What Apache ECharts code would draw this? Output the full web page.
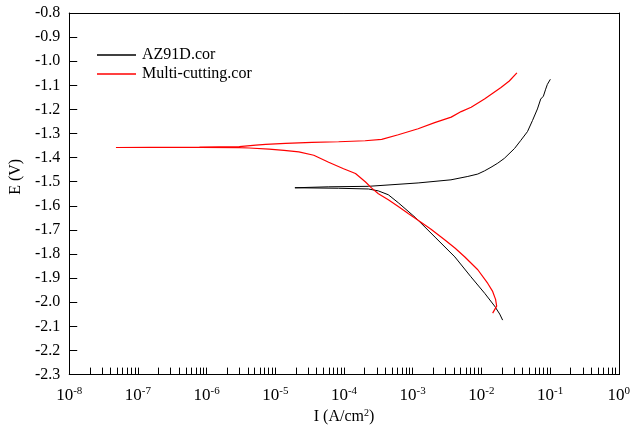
<!DOCTYPE html>
<html>
<head>
<meta charset="utf-8">
<script src="https://cdn.jsdelivr.net/npm/echarts@6/dist/echarts.min.js"></script>
<style>html,body{margin:0;padding:0;background:#fff;}#c{width:633px;height:430px;}</style>
</head>
<body>
<div id="c"></div>
<script>
// ---- data (current density in A/cm^2, potential in V) ----
const seriesNames = ['AZ91D.cor', 'Multi-cutting.cor'];

const az91dI = [2.04e-2, 1.85e-2, 1.56e-2, 1.12e-2, 7.03e-3, 4.12e-3, 2.12e-3, 1.09e-3, 6.17e-4, 4.42e-4, 3.17e-4, 2.27e-4, 8.36e-5, 1.93e-5,
                1.93e-5, 6.0e-5, 2.27e-4, 1.20e-3, 3.61e-3, 6.35e-3, 8.87e-3, 1.11e-2, 1.38e-2, 1.73e-2, 2.16e-2, 3.04e-2, 3.76e-2,
                4.69e-2, 5.55e-2, 6.55e-2, 7.31e-2, 8.0e-2, 8.63e-2, 9.14e-2, 1.01e-1];
const az91dE = [-2.074, -2.049, -2.016, -1.963, -1.894, -1.812, -1.730, -1.648, -1.587, -1.554, -1.538, -1.530, -1.527, -1.525,
                -1.5226, -1.521, -1.519, -1.505, -1.492, -1.478, -1.468, -1.455, -1.440, -1.423, -1.403, -1.362, -1.328,
                -1.292, -1.246, -1.198, -1.157, -1.145, -1.116, -1.096, -1.075];

const multiI = [1.46e-2, 1.56e-2, 1.67e-2, 1.61e-2, 1.46e-2, 1.24e-2, 8.87e-3, 5.75e-3, 4.12e-3, 2.95e-3, 1.85e-3, 1.20e-3, 8.61e-4,
                6.17e-4, 4.42e-4, 3.17e-4, 2.51e-4, 2.06e-4, 1.47e-4, 9.86e-5, 5.98e-5, 3.63e-5, 2.20e-5, 1.34e-5, 8.11e-6, 4.16e-6,
                2.99e-6, 7.87e-7, 1.49e-7, 4.79e-8,
                1.49e-7, 7.87e-7, 2.99e-6, 5.20e-6, 7.26e-6, 1.41e-5, 3.43e-5, 8.36e-5, 2.03e-4, 3.54e-4, 6.17e-4, 1.20e-3, 2.09e-3,
                3.64e-3, 5.08e-3, 7.10e-3, 1.11e-2, 1.93e-2, 2.55e-2, 3.29e-2];
const multiE = [-2.045, -2.037, -2.016, -1.988, -1.955, -1.922, -1.865, -1.812, -1.775, -1.742, -1.697, -1.660, -1.632,
                -1.603, -1.575, -1.550, -1.5255, -1.501, -1.466, -1.446, -1.419, -1.390, -1.376, -1.370, -1.365, -1.360,
                -1.3585, -1.358, -1.358, -1.358,
                -1.357, -1.356, -1.354, -1.348, -1.345, -1.341, -1.337, -1.334, -1.330, -1.324, -1.305, -1.280, -1.255,
                -1.232, -1.209, -1.191, -1.157, -1.109, -1.082, -1.048];

// axis ticks
const xDecadeExponents = [-8, -7, -6, -5, -4, -3, -2, -1, 0];
const xMinorMultipliers = [2, 3, 4, 5, 6, 7, 8, 9, 10];
const yMin = -2.3, yMax = -0.8, yStep = 0.1;

const FONT = 'Liberation Serif';

function zip(a, b) { return a.map((v, i) => [v, b[i]]); }

const minorTickPositions = [];
xDecadeExponents.slice(0, -1).forEach(d => {
  xMinorMultipliers.forEach(m => minorTickPositions.push(d + Math.log10(m)));
});

const blackLine = {show: true, onZero: false, lineStyle: {color: '#000', width: 1}};

const chart = echarts.init(document.getElementById('c'), null, {renderer: 'canvas'});
chart.setOption({
  animation: false,
  backgroundColor: '#fff',
  grid: {left: 69, right: 11, top: 13, bottom: 51, show: false},
  legend: {
    orient: 'vertical', left: 92, top: 42,
    itemWidth: 39, itemHeight: 1.5, itemGap: 3, icon: 'rect',
    textStyle: {fontFamily: FONT, fontSize: 16, color: '#000', lineHeight: 16, padding: [0, 0, 0, 1]},
    data: seriesNames
  },
  xAxis: [
    {
      type: 'value', position: 'bottom', min: -8, max: 0, interval: 1,
      axisLine: blackLine,
      splitLine: {show: false},
      axisTick: {show: true, inside: true, length: 7, lineStyle: {color: '#000', width: 1}, customValues: minorTickPositions},
      axisLabel: {
        margin: 11, customValues: xDecadeExponents,
        formatter: v => '{b|10}{s|' + v + '}',
        rich: {
          b: {fontFamily: FONT, fontSize: 17, color: '#000'},
          s: {fontFamily: FONT, fontSize: 11, color: '#000', padding: [0, 0, 8, 0]}
        }
      },
      name: '{a|I (A/cm}{s|2}{a|)}',
      nameLocation: 'middle', nameGap: 33,
      nameTextStyle: {
        rich: {
          a: {fontFamily: FONT, fontSize: 16, color: '#000'},
          s: {fontFamily: FONT, fontSize: 10, color: '#000', padding: [0, 0, 7, 0]}
        }
      }
    },
    {
      type: 'log', logBase: 10, position: 'top', min: 1e-8, max: 1,
      axisLine: blackLine, axisTick: {show: false}, axisLabel: {show: false}, splitLine: {show: false}
    }
  ],
  yAxis: [
    {
      type: 'value', position: 'left', min: yMin, max: yMax, interval: yStep,
      axisLine: blackLine,
      splitLine: {show: false},
      axisTick: {show: true, inside: true, length: 8, lineStyle: {color: '#000', width: 1}},
      axisLabel: {margin: 9, fontFamily: FONT, fontSize: 16, color: '#000', formatter: v => v.toFixed(1)},
      name: 'E (V)', nameLocation: 'middle', nameGap: 37, nameRotate: 90,
      nameTextStyle: {fontFamily: FONT, fontSize: 16, color: '#000', padding: [0, 0, 0, 34]}
    },
    {
      type: 'value', position: 'right', min: yMin, max: yMax, interval: yStep,
      axisLine: blackLine, axisTick: {show: false}, axisLabel: {show: false}, splitLine: {show: false}
    }
  ],
  series: [
    {name: seriesNames[0], type: 'line', xAxisIndex: 1, yAxisIndex: 0, symbol: 'none', showSymbol: false,
     lineStyle: {color: '#000', width: 1}, itemStyle: {color: '#000'}, data: zip(az91dI, az91dE)},
    {name: seriesNames[1], type: 'line', xAxisIndex: 1, yAxisIndex: 0, symbol: 'none', showSymbol: false,
     lineStyle: {color: '#ff0000', width: 1.2}, itemStyle: {color: '#ff0000'}, data: zip(multiI, multiE)}
  ]
});
</script>
</body>
</html>
